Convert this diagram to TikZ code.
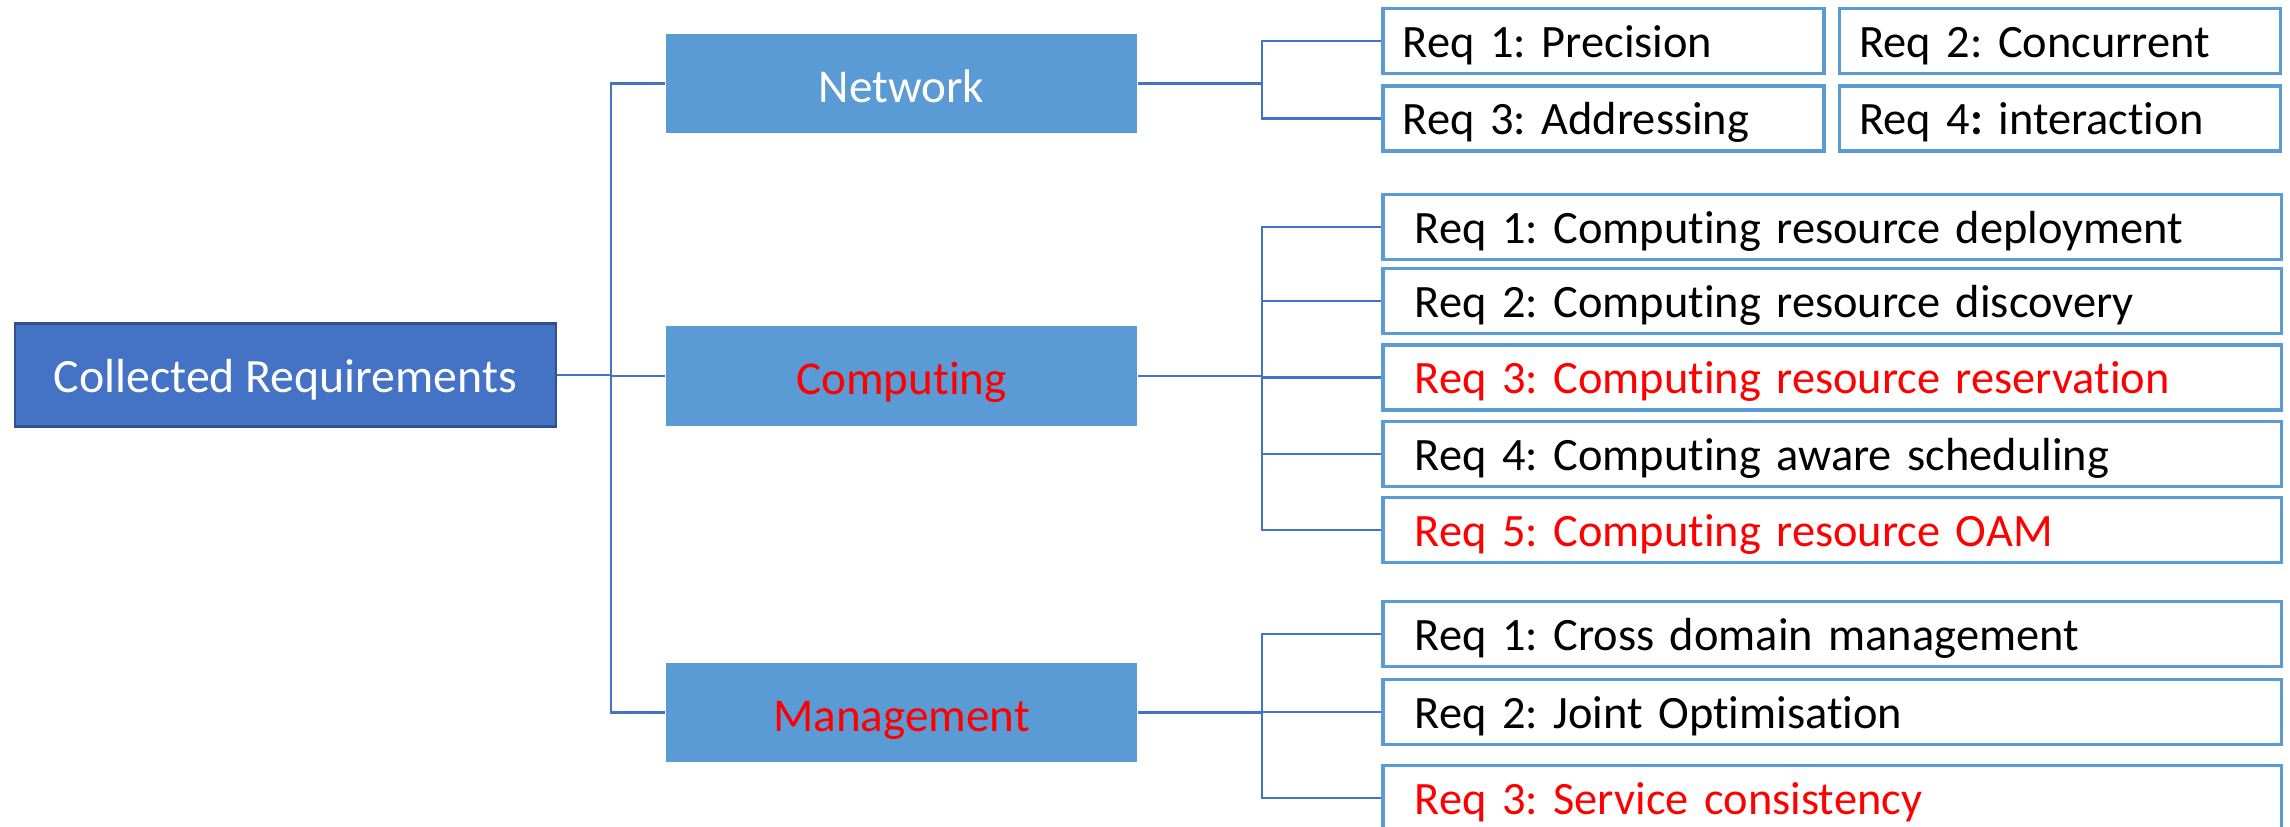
\documentclass[tikz,border=0pt]{standalone}
\usepackage{fontspec}
\setmainfont{Carlito}[Ligatures = NoCommon]
\frenchspacing
\usepackage{tikz}
\usetikzlibrary{positioning}
\definecolor{rootblue}{RGB}{68, 114, 196}
\definecolor{rootedge}{RGB}{47, 82, 143}
\definecolor{catblue}{RGB}{91, 155, 213}
\definecolor{reqred}{RGB}{255, 0, 0}

\tikzset{
  rootbox/.style = {draw = rootedge, fill = rootblue, text = white, line width = 0.6pt,
    font = \fontsize{13.6}{16}\selectfont, inner ysep = 0,
    minimum width = 5.41cm, minimum height = 1.03cm, text height = 0.46cm, text depth = 0.12cm},
  catbox/.style = {fill = catblue, text = white, font = \fontsize{13.4}{16}\selectfont, inner ysep = 0,
    minimum width = 4.71cm, minimum height = 0.99cm, text height = 0.49cm, text depth = 0.12cm},
  reqbox/.style = {draw = catblue, line width = 1pt, minimum height = 0.65cm, align = left,
    inner ysep = 0, inner xsep = 0.32cm, text width = 8.34cm, text height = 0.44cm, text depth = 0.12cm},
  smallreq/.style = {reqbox, inner xsep = 0.2cm, text width = 4.01cm},
  link/.style = {draw = rootblue, line width = 0.6pt}
}

\begin{document}
\begin{tikzpicture}[x = 0.01cm, y = -0.01cm, font = \fontsize{13.2}{16}\selectfont]

\useasboundingbox (0, 0) rectangle (2290, 826);

\node[rootbox] (root) at (285.5, 375) {Collected Requirements};
\coordinate[right = 0.54cm of root.east] (rootfork);

\node[catbox] (net) at (901.5, 83.5) {Network};
\node[catbox, text = reqred] (comp) at (901.5, 376) {Computing};
\node[catbox, text = reqred] (mgmt) at (901.5, 712.5) {Management};

\draw[link] (root.east) -- (rootfork);
\foreach \c in {net, comp, mgmt}
  \draw[link] (rootfork) |- (\c.west);

% network requirements
\node[smallreq] (net1) at (1603.5, 41) {Req 1: Precision};
\node[smallreq] (net2) at (2060, 41) {Req 2: Concurrent};
\node[smallreq] (net3) at (1603.5, 118.5) {Req 3: Addressing};
\node[smallreq] (net4) at (2060, 118.5) {Req 4\textbf{:} interaction};
\coordinate[right = 1.24cm of net.east] (netfork);
\draw[link] (net.east) -- (netfork);
\draw[link] (netfork) |- (net1.west);
\draw[link] (netfork) |- (net3.west);

% computing requirements
\node[reqbox] (comp1) at (1832, 227) {Req 1: Computing resource deployment};
\node[reqbox] (comp2) at (1832, 301) {Req 2: Computing resource discovery};
\node[reqbox, text = reqred] (comp3) at (1832, 377.5) {Req 3: Computing resource reservation};
\node[reqbox] (comp4) at (1832, 454) {Req 4: Computing aware scheduling};
\node[reqbox, text = reqred] (comp5) at (1832, 530) {Req 5: Computing resource OAM};
\coordinate[right = 1.24cm of comp.east] (compfork);
\draw[link] (comp.east) -- (compfork);
\foreach \i in {1, ..., 5}
  \draw[link] (compfork) |- (comp\i.west);

% management requirements
\node[reqbox] (mgmt1) at (1832, 634) {Req 1: Cross domain management};
\node[reqbox] (mgmt2) at (1832, 712) {Req 2: Joint Optimisation};
\node[reqbox, text = reqred] (mgmt3) at (1832, 798) {Req 3: Service consistency};
\coordinate[right = 1.24cm of mgmt.east] (mgmtfork);
\draw[link] (mgmt.east) -- (mgmtfork);
\foreach \i in {1, 2, 3}
  \draw[link] (mgmtfork) |- (mgmt\i.west);

\end{tikzpicture}
\end{document}
